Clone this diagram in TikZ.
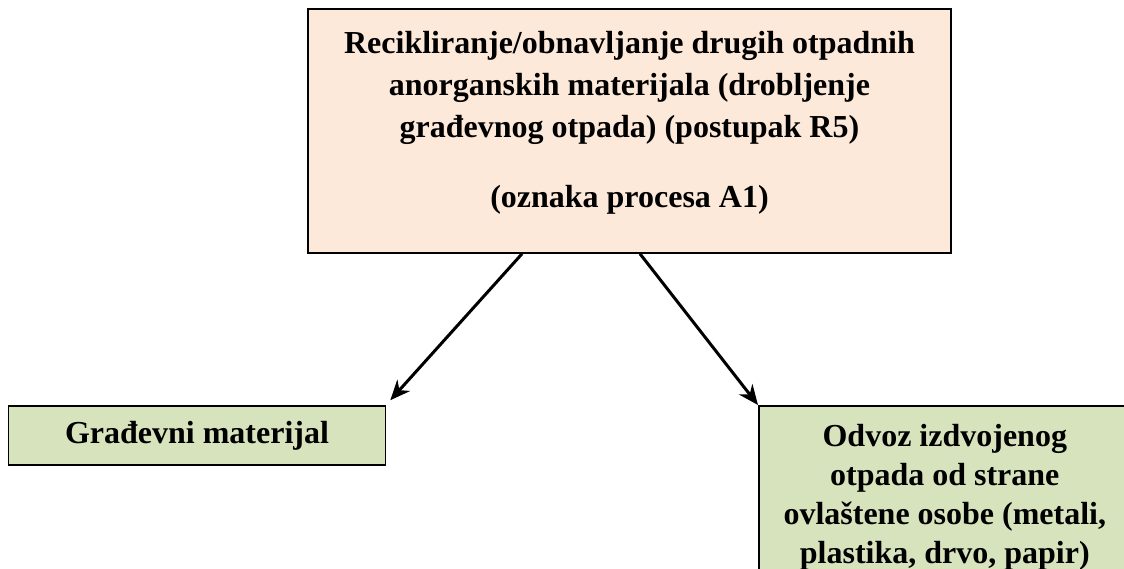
\documentclass[tikz,border=0pt]{standalone}
\usepackage{fontspec}
\setmainfont{Liberation Serif}
\usepackage{tikz}
\usetikzlibrary{arrows.meta,positioning,calc}
\definecolor{peach}{RGB}{253,233,217}
\definecolor{palegreen}{RGB}{215,227,188}

\begin{document}
\begin{tikzpicture}[x=1pt, y=-1pt,
    box/.style={rectangle, draw=black, line width=1.6pt, align=center, font=\fontsize{32}{41}\selectfont\bfseries},
    arrow/.style={-{Stealth[length=20pt,width=17pt]}, line width=3pt}]

    \useasboundingbox (0,0) rectangle (1124,568);
    \clip (0,0) rectangle (1124,568);

    \node[box, fill=peach, minimum width=643pt, minimum height=244pt,
          font=\fontsize{32}{42}\selectfont\bfseries] (process) at (629.5,131)
        {Recikliranje/obnavljanje drugih otpadnih\\ anorganskih materijala (drobljenje\\ građevnog otpada) (postupak R5)\\[28pt] (oznaka procesa A1)\rule[-24pt]{0pt}{0pt}};
    \node[box, fill=palegreen, minimum width=377pt, minimum height=59pt] (material) at (197,435.5) {Građevni materijal\rule[-5pt]{0pt}{0pt}};
    \node[box, fill=palegreen, minimum width=372pt, minimum height=182pt, anchor=north west,
          font=\fontsize{32}{39}\selectfont\bfseries] (removal) at (758,405)
        {Odvoz izdvojenog\\ otpada od strane\\ ovlaštene osobe (metali,\\ plastika, drvo, papir)\rule[-6pt]{0pt}{0pt}};

    \draw[arrow] ([xshift=-107.5pt]process.south) -- ([shift={(4,-5)}]material.north east);
    \draw[arrow] ([xshift=10.5pt]process.south) -- (removal.north west);
\end{tikzpicture}
\end{document}
